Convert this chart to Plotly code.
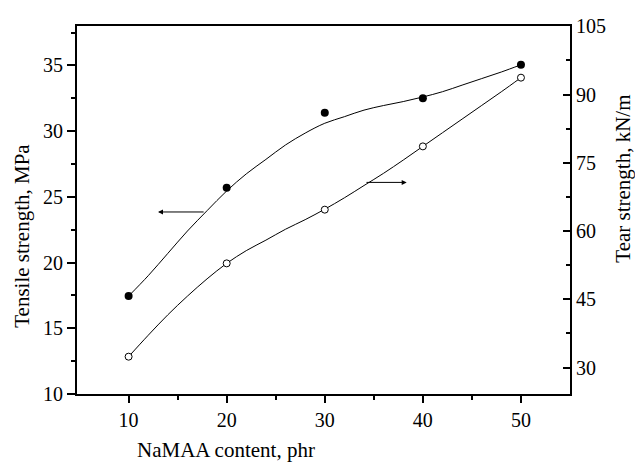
import plotly.graph_objects as go

# Measured data points
content = [10, 20, 30, 40, 50]
tensile = [17.45, 25.7, 31.4, 32.5, 35.05]
tear = [32.4, 52.9, 64.7, 78.6, 93.7]

# Smoothed fit curves
fit_x = [10, 12, 14, 16, 18, 20, 22, 24, 26, 28, 30, 32, 34, 36, 38, 40, 42, 44, 46, 48, 50]
fit_tensile = [17.45, 19.0, 20.7, 22.4, 23.95, 25.45, 26.75, 27.85, 28.95, 29.85, 30.6,
               31.1, 31.6, 31.95, 32.25, 32.6, 33.0, 33.5, 34.0, 34.5, 35.05]
fit_tear = [32.4, 37.1, 41.6, 45.7, 49.5, 52.9, 55.7, 58.0, 60.4, 62.5, 64.8,
            67.3, 70.0, 72.7, 75.6, 78.6, 81.6, 84.6, 87.6, 90.6, 93.7]

FONT = "Liberation Serif"

fig = go.Figure()
fig.add_trace(go.Scatter(x=fit_x, y=fit_tensile, mode="lines",
                         line=dict(color="black", width=1, shape="spline", smoothing=1),
                         showlegend=False))
fig.add_trace(go.Scatter(x=content, y=tensile, mode="markers",
                         marker=dict(color="black", size=8, symbol="circle"), showlegend=False))
fig.add_trace(go.Scatter(x=fit_x, y=fit_tear, mode="lines", yaxis="y2",
                         line=dict(color="black", width=1, shape="spline", smoothing=1),
                         showlegend=False))
fig.add_trace(go.Scatter(x=content, y=tear, mode="markers", yaxis="y2",
                         marker=dict(color="white", size=7, symbol="circle",
                                     line=dict(color="black", width=1)), showlegend=False))

fig.update_layout(
    width=635, height=463,
    margin=dict(l=77, r=65, t=26, b=69),
    paper_bgcolor="white", plot_bgcolor="white",
    font=dict(family=FONT, size=21, color="black"),
    xaxis=dict(range=[4.74, 55.0], tickvals=[10, 20, 30, 40, 50], ticks="outside",
               ticklen=7, tickwidth=1.5, tickcolor="black",
               minor=dict(tickvals=[15, 25, 35, 45], ticks="outside", ticklen=4,
                          tickwidth=1.5, tickcolor="black"),
               showline=True, linecolor="black", linewidth=1.8, mirror=True,
               showgrid=False, zeroline=False, tickfont=dict(size=20)),
    yaxis=dict(range=[10, 38], tickvals=[10, 15, 20, 25, 30, 35], ticks="outside",
               ticklen=8, tickwidth=1.5, tickcolor="black",
               minor=dict(tickvals=[12.5, 17.5, 22.5, 27.5, 32.5, 37.5], ticks="outside",
                          ticklen=4, tickwidth=1.5, tickcolor="black"),
               showline=True, linecolor="black", linewidth=1.8,
               showgrid=False, zeroline=False, tickfont=dict(size=20)),
    yaxis2=dict(range=[24.2, 105.05], overlaying="y", side="right",
                tickvals=[30, 45, 60, 75, 90, 105], ticks="inside",
                ticklen=7, tickwidth=1.5, tickcolor="black",
                minor=dict(tickvals=[37.5, 52.5, 67.5, 82.5, 97.5], ticks="inside",
                           ticklen=4, tickwidth=1.5, tickcolor="black"),
                showline=True, linecolor="black", linewidth=1.8,
                showgrid=False, zeroline=False, tickfont=dict(size=20)),
)

# Axis titles
fig.add_annotation(text="NaMAA content, phr", xref="paper", yref="paper",
                   x=0.303, y=0, yshift=-56, showarrow=False,
                   font=dict(size=21), xanchor="center", yanchor="middle")
fig.add_annotation(text="Tensile strength, MPa", xref="paper", yref="paper",
                   x=0, xshift=-55, y=0.43, textangle=-90, showarrow=False,
                   font=dict(size=21), xanchor="center", yanchor="middle")
fig.add_annotation(text="Tear strength, kN/m", xref="paper", yref="paper",
                   x=1, xshift=53, y=0.585, textangle=-90, showarrow=False,
                   font=dict(size=21), xanchor="center", yanchor="middle")

# Pointer arrows
fig.add_annotation(x=13.0, y=23.85, ax=17.8, ay=23.85, xref="x", yref="y",
                   axref="x", ayref="y", showarrow=True, arrowhead=2,
                   arrowsize=1, arrowwidth=1, arrowcolor="black", text="")
fig.add_annotation(x=38.35, y=26.1, ax=34.1, ay=26.1, xref="x", yref="y",
                   axref="x", ayref="y", showarrow=True, arrowhead=2,
                   arrowsize=1, arrowwidth=1, arrowcolor="black", text="")

fig.write_html("out.html")
